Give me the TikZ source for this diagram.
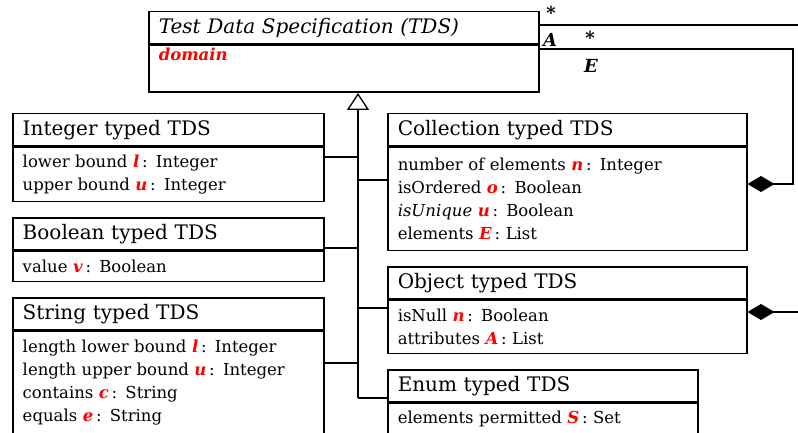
\documentclass[tikz,border=0pt]{standalone}
\usepackage{fontspec}
\setmainfont{DejaVu Serif}
\usetikzlibrary{arrows.meta}
\definecolor{MyRed}{RGB}{255, 0, 0}
\newcommand{\lw}{1.5pt}
\newcommand{\rv}[1]{\textcolor{MyRed}{\textbf{\textit{#1}}}}
\tikzset{
  ttl/.style={draw, line width=\lw, anchor=north west, minimum height=32pt,
    inner xsep=10pt, inner ysep=2pt, align=left, font=\fontsize{20}{22}\selectfont},
  bdy/.style={draw, line width=\lw, anchor=north west, inner xsep=10pt,
    inner ysep=2pt, align=left, font=\fontsize{16.5}{23}\selectfont},
  link/.style={line width=1.3pt},
  comp/.style={link, -{Diamond[length=27pt, width=16pt]}},
  gen/.style={link, -{Triangle[open, length=17pt, width=22pt, line width=1.3pt]}},
  lbl/.style={inner sep=0pt, font=\fontsize{18}{18}\selectfont\bfseries\itshape}
}

\begin{document}
\begin{tikzpicture}[x=1pt, y=-1pt]
  \useasboundingbox (0,0) rectangle (798,433);

  % base class
  \node[ttl, text width=370pt] (tds) at (148,11) {\textit{Test Data Specification (TDS)}};
  \node[bdy, text width=370pt, minimum height=47pt] (tdsb) at (tds.south west) {\rv{domain}\\ \strut};

  % left column
  \node[ttl, text width=291pt] (int) at (12,113) {Integer typed TDS};
  \node[bdy, text width=291pt, minimum height=54pt] (intb) at (int.south west)
    {lower bound \rv{l}\,: Integer\\ upper bound \rv{u}\,: Integer};
  \node[ttl, text width=291pt] (bool) at (12,217) {Boolean typed TDS};
  \node[bdy, text width=291pt, minimum height=30pt] (boolb) at (bool.south west)
    {value \rv{v}\,: Boolean};
  \node[ttl, text width=291pt] (str) at (12,297) {String typed TDS};
  \node[bdy, text width=291pt, minimum height=102pt] (strb) at (str.south west)
    {length lower bound \rv{l}\,: Integer\\ length upper bound \rv{u}\,: Integer\\
     contains \rv{c}\,: String\\ equals \rv{e}\,: String};

  % right column
  \node[ttl, text width=339pt] (coll) at (387,113) {Collection typed TDS};
  \node[bdy, text width=339pt, minimum height=103pt] (collb) at (coll.south west)
    {number of elements \rv{n}\,: Integer\\ isOrdered \rv{o}\,: Boolean\\
     \textit{isUnique} \rv{u}\,: Boolean\\ elements \rv{E}\,: List};
  \node[ttl, text width=339pt] (obj) at (387,266) {Object typed TDS};
  \node[bdy, text width=339pt, minimum height=53pt] (objb) at (obj.south west)
    {isNull \rv{n}\,: Boolean\\ attributes \rv{A}\,: List};
  \node[ttl, text width=290pt] (enum) at (387,369) {Enum typed TDS};
  \node[bdy, text width=290pt, minimum height=31pt] (enumb) at (enum.south west)
    {elements permitted \rv{S}\,: Set};

  % generalization tree
  \coordinate (spine) at (358,398);
  \coordinate (jInt)  at (358,157);
  \coordinate (jColl) at (358,180);
  \coordinate (jBool) at (358,248);
  \coordinate (jObj)  at (358,308);
  \coordinate (jStr)  at (358,363);
  \draw[gen] (spine) -- (spine |- tdsb.south);
  \draw[link] (jInt) -- (jInt -| intb.east);
  \draw[link] (jColl) -- (jColl -| collb.west);
  \draw[link] (jBool) -- (jBool -| boolb.east);
  \draw[link] (jObj) -- (jObj -| objb.west);
  \draw[link] (jStr) -- (jStr -| strb.east);
  \draw[link] (spine) -- (spine -| enumb.west);

  % associations
  \coordinate (eA) at (798,25);
  \coordinate (cE) at (793,49);
  \coordinate (dE) at (793,184);
  \coordinate (eO) at (798,312);
  \draw[link] (eA -| tds.east) -- (eA);
  \draw[comp] (cE -| tdsb.east) -- (cE) -- (dE) -- (dE -| collb.east);
  \draw[comp] (eO) -- (eO -| objb.east);

  \node[lbl] (mA) at (551,13) {*};
  \node[lbl] (rA) at (550,40) {A};
  \node[lbl] (mE) at (590,38) {*};
  \node[lbl] (rE) at (591,66) {E};
\end{tikzpicture}
\end{document}
